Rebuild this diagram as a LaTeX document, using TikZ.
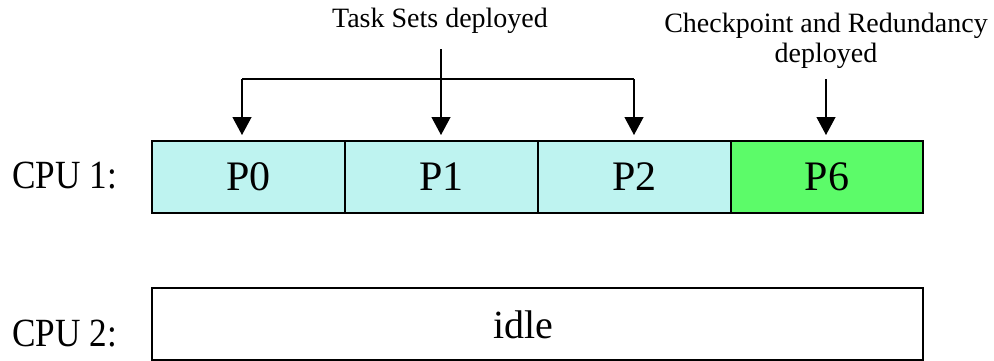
\documentclass[tikz,border=0pt]{standalone}
\usepackage{fontspec}
\setmainfont{Liberation Serif}
\usetikzlibrary{arrows.meta}
\definecolor{cyanfill}{RGB}{190,243,240}
\definecolor{greenfill}{RGB}{92,251,105}
\begin{document}
\begin{tikzpicture}[x=1pt,y=-1pt,
  cell/.style={draw=black,line width=1.8pt,minimum width=193pt,minimum height=72pt,inner sep=0pt,font=\fontsize{42}{46}\selectfont},
  big/.style={inner sep=0pt,font=\fontsize{40}{44}\selectfont},
  small/.style={inner sep=0pt,font=\fontsize{28}{30}\selectfont,align=center},
  conn/.style={line width=1.2pt},
  arr/.style={line width=1.2pt,-{Triangle[width=19pt,length=18pt]}}]
\useasboundingbox (0,0) rectangle (994,360);
\fill[white] (0,0) rectangle (994,360);
% CPU 1 row
\node[cell,fill=cyanfill] (p0) at (248.5,177) {P0};
\node[cell,fill=cyanfill] (p1) at (441.5,177) {P1};
\node[cell,fill=cyanfill] (p2) at (634.5,177) {P2};
\node[cell,fill=greenfill,minimum width=192pt] (p6) at (827,177) {P6};
\node[big,anchor=base west] (cpu1) at (12,188) {\scalebox{0.88}[1]{CPU 1:}};
% CPU 2 row
\node[cell,minimum width=771pt] (idlebox) at (537.5,324) {};
\node[big,anchor=base] (idletext) at (523,338) {idle};
\node[big,anchor=base west] (cpu2) at (12,346) {\scalebox{0.88}[1]{CPU 2:}};
% labels
\node[small,anchor=base] (ts) at (440,27) {Task Sets deployed};
\node[small,anchor=north] (cr) at (826,13) {Checkpoint and Redundancy\\deployed};
% connectors
\coordinate (tsout) at (441,49);
\coordinate (jl) at (242,79);
\coordinate (jr) at (634,79);
\coordinate (p0in) at (242,135);
\coordinate (p1in) at (441,135);
\coordinate (p2in) at (634,135);
\coordinate (crout) at (826,79);
\coordinate (p6in) at (826,135);
\draw[conn] (jl) -- (jr);
\draw[arr] (jl) -- (p0in);
\draw[arr] (jr) -- (p2in);
\draw[arr] (tsout) -- (p1in);
\draw[arr] (crout) -- (p6in);
\end{tikzpicture}
\end{document}
